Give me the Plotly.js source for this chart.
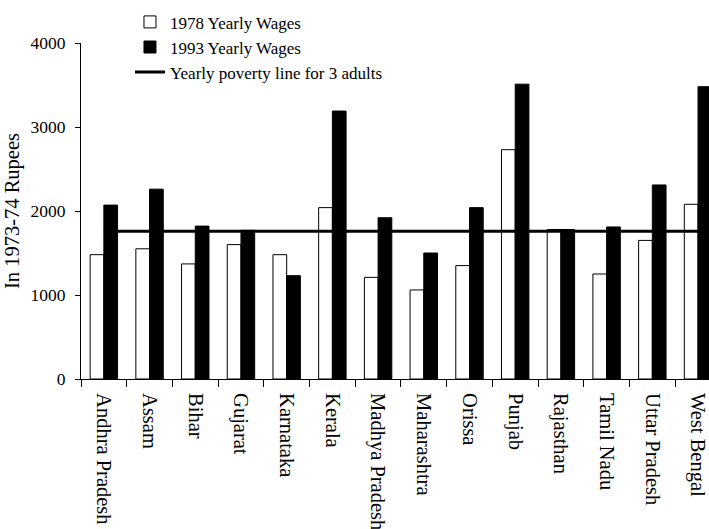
<!DOCTYPE html>
<html>
<head>
<meta charset="utf-8">
<script src="https://cdn.plot.ly/plotly-3.0.1.min.js"></script>
<style>html,body{margin:0;padding:0;background:#fff;overflow:hidden;}</style>
</head>
<body>
<div id="chart" style="width:709px;height:529px;"></div>
<script>
const states = ["Andhra Pradesh","Assam","Bihar","Gujarat","Karnataka","Kerala","Madhya Pradesh","Maharashtra","Orissa","Punjab","Rajasthan","Tamil Nadu","Uttar Pradesh","West Bengal"];
const wages1978 = [1480,1550,1370,1600,1480,2040,1210,1060,1350,2730,1780,1250,1650,2080];
const wages1993 = [2070,2260,1820,1770,1230,3190,1920,1500,2040,3510,1780,1810,2310,3480];
const povertyLine = [1760,1760,1760,1760,1760,1760,1760,1760,1760,1760,1760,1760,1760,1760];

const font = {family: "Liberation Serif, Times New Roman, serif", color: "#000"};

const traces = [
  {type: "bar", name: "1978 Yearly Wages", x: states, y: wages1978,
   marker: {color: "#fff", line: {color: "#000", width: 1}}},
  {type: "bar", name: "1993 Yearly Wages", x: states, y: wages1993,
   marker: {color: "#000", line: {color: "#000", width: 1}}},
  {type: "scatter", mode: "lines", name: "Yearly poverty line for 3 adults", x: states, y: povertyLine,
   line: {color: "#000", width: 3}}
];

const layout = {
  width: 709, height: 529,
  margin: {l: 81, r: 0, t: 43, b: 150},
  paper_bgcolor: "#fff", plot_bgcolor: "#fff",
  font: Object.assign({size: 17}, font),
  barmode: "group", bargap: 0.4, bargroupgap: 0,
  showlegend: true,
  legend: {x: 0.078, y: 1.115, xanchor: "left", yanchor: "top", bgcolor: "rgba(0,0,0,0)",
           font: Object.assign({size: 17}, font), tracegroupgap: 0, itemwidth: 30},
  xaxis: {type: "category", range: [-0.5, 13.24], autorange: false,
          showline: true, linecolor: "#000", linewidth: 1, showgrid: false, zeroline: false,
          ticks: "outside", tickson: "boundaries", ticklen: 7, tickcolor: "#000",
          ticklabelstandoff: 9,
          tickangle: 90, tickfont: Object.assign({size: 20.5}, font)},
  yaxis: {range: [0, 4000], autorange: false, tickvals: [0,1000,2000,3000,4000],
          showline: true, linecolor: "#000", linewidth: 1, showgrid: false, zeroline: false,
          ticks: "outside", ticklen: 5, tickcolor: "#000", ticklabelstandoff: 6,
          tickfont: Object.assign({size: 17.5}, font),
          title: {text: "In 1973-74 Rupees", font: Object.assign({size: 20.5}, font), standoff: 5}}
};

Plotly.newPlot("chart", traces, layout, {displayModeBar: false, staticPlot: true});
</script>
</body>
</html>
